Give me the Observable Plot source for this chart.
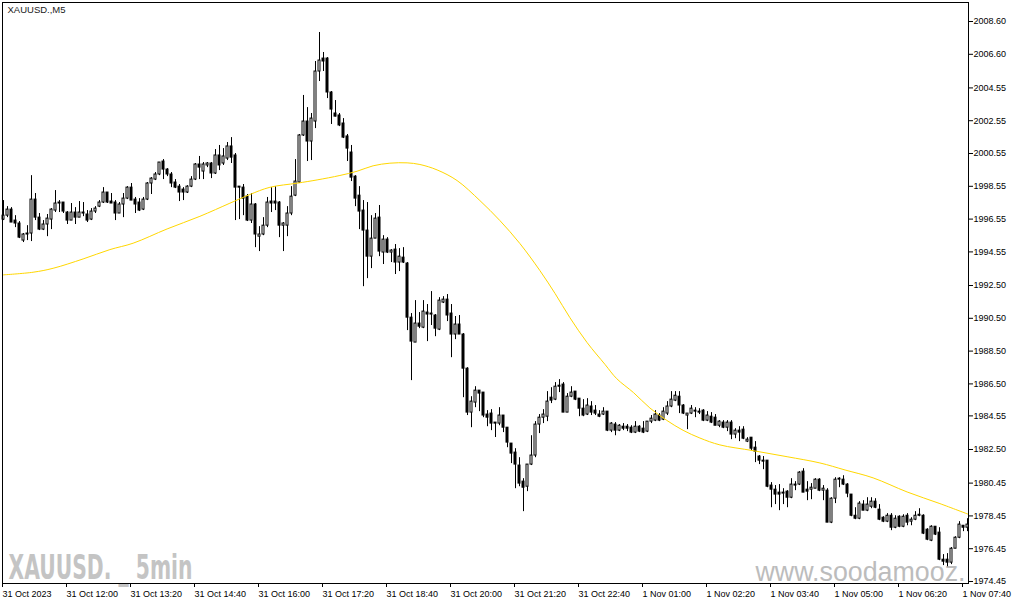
<!DOCTYPE html>
<html><head><meta charset="utf-8">
<script src="https://cdn.jsdelivr.net/npm/d3@7"></script>
<script src="https://cdn.jsdelivr.net/npm/@observablehq/plot@0.6"></script>
<style>
html,body{margin:0;padding:0;background:#fff;}
#chart{width:1015px;height:605px;overflow:hidden;}
</style></head><body><div id="chart"></div>
<script>
const symbolTitle = "XAUUSD.,M5";
const watermarkLeft = "XAUUSD. _ 5min";
const watermarkRight = "www.soodamooz.";

const timeLabels = ["31 Oct 2023","31 Oct 12:00","31 Oct 13:20","31 Oct 14:40","31 Oct 16:00","31 Oct 17:20","31 Oct 18:40","31 Oct 20:00","31 Oct 21:20","31 Oct 22:40","1 Nov 01:00","1 Nov 02:20","1 Nov 03:40","1 Nov 05:00","1 Nov 06:20","1 Nov 07:40"];
const barsPerLabel = 16;
const priceLabels = ["2008.60","2006.60","2004.55","2002.55","2000.55","1998.55","1996.55","1994.55","1992.50","1990.50","1988.50","1986.50","1984.55","1982.50","1980.45","1978.45","1976.45","1974.45"];

const open = [
1996.52,1996.76,1997.13,1996.46,1996.28,1995.24,1995.61,1995.67,1997.74,1996.64,
1995.91,1996.22,1996.52,1997.07,1997.56,1997.56,1996.95,1996.46,1996.95,1996.64,
1996.95,1996.83,1996.52,1997.01,1997.31,1997.56,1998.17,1997.62,1997.56,1996.89,
1997.44,1997.80,1998.47,1997.74,1997.56,1997.13,1997.74,1998.72,1998.96,1999.27,
2000.06,1999.57,1999.27,1998.78,1998.53,1998.35,1998.17,1998.53,1998.96,1999.88,
1999.45,1999.82,1999.94,1999.33,2000.43,1999.94,2000.24,2000.98,2000.43,1998.53,
1998.47,1997.92,1996.46,1997.44,1995.48,1995.61,1996.15,1997.62,1997.62,1997.56,
1996.15,1996.15,1996.89,1997.98,1998.78,2001.65,2002.50,2001.28,2002.50,2005.55,
2006.34,2006.34,2004.27,2002.99,2002.87,2002.38,2001.59,2000.61,1999.14,1997.98,
1997.07,1995.85,1994.26,1995.36,1996.64,1994.51,1995.30,1994.51,1994.69,1993.90,
1994.20,1993.84,1990.54,1989.02,1990.18,1989.93,1990.85,1990.79,1990.67,1989.81,
1991.46,1991.64,1990.79,1989.51,1990.12,1989.51,1987.43,1984.75,1985.36,1986.09,
1985.97,1984.63,1984.69,1984.14,1984.08,1984.57,1983.83,1982.86,1982.31,1981.52,
1980.54,1980.23,1981.58,1982.13,1984.02,1984.44,1984.50,1985.66,1985.54,1986.39,
1986.46,1984.75,1985.72,1986.03,1985.60,1984.99,1984.63,1985.12,1984.87,1984.63,
1984.63,1984.81,1983.65,1984.02,1983.65,1983.89,1983.89,1983.83,1983.53,1983.89,
1983.77,1983.59,1984.20,1984.26,1984.57,1984.32,1984.69,1985.12,1985.48,1985.72,
1985.18,1984.57,1984.69,1984.87,1984.81,1984.87,1984.26,1984.50,1984.44,1983.95,
1984.14,1983.83,1984.14,1983.41,1983.65,1983.71,1982.98,1983.22,1982.61,1982.07,
1981.82,1981.82,1980.30,1980.05,1979.87,1979.81,1979.93,1979.56,1980.36,1980.36,
1981.15,1980.05,1980.05,1980.11,1980.66,1979.99,1979.99,1978.04,1979.50,1980.66,
1980.66,1980.36,1979.75,1978.46,1978.28,1979.14,1978.77,1979.01,1979.32,1978.83,
1978.34,1978.10,1978.46,1977.73,1978.40,1977.79,1978.46,1978.10,1978.22,1978.52,
1978.46,1977.61,1976.94,1977.79,1977.43,1975.78,1975.78,1975.60,1976.45,1977.12,
1977.85,1977.73];

const high = [
1997.68,1997.31,1997.25,1996.76,1996.40,1995.67,1996.15,1999.20,1998.11,1996.89,
1996.46,1996.83,1997.19,1998.29,1997.68,1997.56,1997.01,1997.50,1997.25,1997.62,
1997.56,1997.07,1997.19,1997.31,1997.68,1998.47,1998.17,1998.11,1997.68,1997.56,
1998.11,1998.53,1998.72,1997.87,1997.80,1997.87,1998.78,1999.08,1999.39,2000.00,
2000.18,1999.63,1999.39,1998.96,1998.66,1998.47,1998.59,1999.14,1999.94,2000.37,
2000.00,2000.00,2000.00,2000.79,2001.04,2000.85,2001.22,2001.52,2000.55,1998.53,
1998.66,1998.05,1998.11,1997.50,1996.09,1996.64,1997.87,1998.47,1998.53,1997.62,
1996.34,1997.31,1998.53,2000.18,2001.71,2004.09,2003.35,2002.99,2006.16,2007.93,
2006.71,2006.40,2004.33,2003.78,2002.99,2002.68,2001.71,2001.04,1999.20,1998.53,
1997.68,1997.56,1996.76,1996.89,1997.38,1995.54,1995.42,1994.69,1995.00,1994.75,
1994.81,1993.90,1990.79,1991.58,1990.85,1991.58,1991.34,1992.13,1990.73,1991.76,
1991.82,1991.95,1991.34,1990.61,1990.67,1989.57,1987.49,1985.72,1986.33,1986.09,
1985.97,1984.87,1984.93,1984.14,1985.05,1984.57,1983.83,1982.86,1982.55,1982.00,
1980.72,1981.58,1983.34,1984.20,1984.63,1984.93,1986.03,1986.27,1986.58,1986.76,
1986.58,1985.91,1986.33,1986.03,1985.60,1985.54,1985.60,1985.42,1985.18,1984.87,
1985.05,1984.81,1984.14,1984.14,1984.02,1984.08,1984.02,1983.95,1984.20,1983.95,
1984.20,1984.20,1984.57,1984.87,1984.69,1985.05,1985.42,1986.03,1986.03,1986.03,
1985.24,1984.69,1985.18,1985.05,1984.99,1984.93,1984.81,1984.75,1984.63,1984.26,
1984.26,1984.26,1984.26,1983.77,1983.89,1983.89,1983.22,1983.22,1982.98,1982.13,
1982.07,1981.82,1980.48,1980.30,1980.36,1980.11,1979.99,1980.72,1980.54,1981.15,
1981.33,1980.54,1980.42,1980.72,1980.72,1980.30,1980.11,1979.56,1980.78,1980.78,
1980.90,1980.42,1979.75,1978.95,1979.32,1979.38,1979.56,1979.56,1979.50,1979.14,
1978.40,1978.59,1978.59,1978.46,1978.46,1978.52,1978.59,1978.34,1978.71,1978.89,
1978.52,1977.67,1977.85,1977.79,1977.73,1976.09,1976.15,1976.52,1977.18,1978.10,
1977.85,1978.28];

const low = [
1996.46,1996.64,1996.34,1996.03,1995.36,1995.12,1995.24,1995.18,1996.46,1995.85,
1995.85,1995.48,1995.91,1996.95,1996.95,1996.89,1996.22,1996.46,1996.22,1996.64,
1996.70,1996.34,1996.46,1996.89,1997.25,1997.50,1997.50,1997.50,1996.46,1996.89,
1996.64,1997.74,1997.68,1996.89,1997.01,1997.07,1997.68,1998.05,1998.90,1999.20,
1998.96,1999.14,1998.47,1998.41,1997.62,1997.68,1998.11,1998.47,1998.90,1998.96,
1998.96,1999.69,1999.02,1999.27,1999.51,1999.82,2000.12,1999.94,1996.46,1996.52,
1996.76,1996.40,1996.28,1994.81,1994.57,1995.54,1996.03,1996.95,1997.07,1995.42,
1994.57,1995.48,1996.76,1997.92,1998.72,2001.59,2000.06,2000.12,2002.07,2004.94,
2005.55,2003.90,2002.32,2002.78,2002.19,2001.46,2000.06,1998.84,1997.31,1995.91,
1992.43,1992.92,1993.53,1995.36,1994.26,1993.78,1994.45,1993.90,1993.17,1993.35,
1993.84,1989.75,1986.70,1989.02,1989.87,1989.87,1989.08,1990.06,1989.38,1989.75,
1991.40,1990.30,1988.10,1989.20,1989.51,1985.66,1984.57,1983.83,1985.05,1984.81,
1984.44,1983.89,1983.65,1983.23,1983.95,1983.53,1982.61,1981.64,1980.11,1980.23,
1978.71,1979.93,1981.52,1982.00,1983.47,1984.08,1984.20,1985.30,1985.48,1985.97,
1984.75,1984.75,1985.66,1985.48,1984.50,1984.50,1984.57,1984.57,1984.57,1984.44,
1984.57,1983.59,1983.53,1983.34,1983.59,1983.65,1983.59,1983.47,1983.47,1983.53,
1983.47,1983.53,1984.08,1984.20,1984.20,1984.26,1984.57,1985.05,1985.42,1984.69,
1984.63,1983.71,1984.63,1984.44,1984.63,1984.20,1984.20,1984.08,1983.95,1983.83,
1983.77,1983.59,1983.10,1983.16,1982.98,1983.10,1982.92,1982.43,1981.70,1981.58,
1981.27,1980.17,1978.95,1979.14,1978.77,1979.14,1978.95,1979.50,1979.99,1980.30,
1979.87,1979.38,1979.44,1980.11,1979.93,1979.38,1978.04,1977.98,1979.20,1980.17,
1980.30,1979.56,1978.40,1978.22,1978.22,1978.77,1978.71,1978.89,1978.89,1978.16,
1978.04,1978.04,1977.55,1977.67,1977.73,1977.73,1977.85,1977.85,1978.16,1978.40,
1977.31,1976.94,1976.88,1977.25,1975.72,1975.42,1975.35,1975.48,1976.45,1977.06,
1977.49,1977.49];

const close = [
1996.76,1997.13,1996.34,1996.28,1995.42,1995.61,1995.67,1997.74,1996.64,1995.91,
1996.22,1996.58,1997.13,1997.50,1997.50,1997.01,1996.46,1996.95,1996.64,1996.95,
1996.89,1996.46,1997.01,1997.19,1997.56,1998.17,1997.56,1997.50,1996.89,1997.44,
1997.80,1998.47,1997.68,1997.44,1997.07,1997.74,1998.72,1999.02,1999.27,2000.00,
1999.57,1999.27,1998.72,1998.47,1998.17,1998.17,1998.53,1998.96,1999.88,1999.69,
1999.88,1999.94,1999.33,2000.43,1999.82,2000.37,2000.98,2000.30,1998.47,1998.47,
1997.80,1996.46,1997.44,1995.61,1995.61,1996.15,1997.56,1997.50,1997.50,1996.15,
1996.28,1996.89,1997.92,1998.84,2001.65,2002.50,2001.28,2002.68,2005.55,2006.22,
2006.16,2004.27,2003.23,2002.80,2002.26,2001.52,2000.85,1999.08,1997.80,1997.01,
1995.85,1994.26,1995.36,1996.58,1994.57,1995.30,1994.51,1994.63,1993.90,1994.26,
1993.90,1990.54,1989.08,1990.18,1989.99,1990.91,1990.73,1990.73,1989.87,1991.58,
1991.64,1990.67,1989.51,1990.12,1989.51,1987.43,1984.75,1985.42,1986.09,1985.91,
1984.57,1984.44,1984.08,1984.08,1984.57,1983.83,1982.92,1982.25,1981.58,1980.42,
1980.17,1981.58,1982.13,1984.02,1984.44,1984.63,1985.42,1985.48,1986.33,1986.33,
1984.75,1985.72,1985.97,1985.54,1984.99,1984.57,1985.18,1984.75,1984.69,1984.50,
1984.81,1983.65,1984.08,1983.65,1983.95,1983.77,1983.77,1983.53,1983.89,1983.59,
1983.53,1984.20,1984.38,1984.63,1984.26,1984.81,1985.12,1985.54,1985.78,1985.18,
1984.69,1984.69,1984.99,1984.81,1984.75,1984.26,1984.57,1984.14,1983.95,1984.20,
1983.83,1984.14,1983.41,1983.65,1983.53,1983.16,1983.10,1982.55,1982.37,1981.82,
1981.76,1980.23,1980.05,1979.75,1979.75,1979.87,1979.56,1980.36,1980.30,1981.09,
1979.87,1979.93,1980.17,1980.66,1979.99,1980.11,1978.04,1979.50,1980.66,1980.72,
1980.36,1979.81,1978.46,1978.28,1979.20,1978.77,1979.14,1979.32,1978.95,1978.22,
1978.10,1978.46,1977.73,1978.28,1977.79,1978.40,1978.04,1978.22,1978.46,1978.46,
1977.37,1977.00,1977.79,1977.31,1975.78,1975.66,1975.60,1976.45,1977.12,1977.92,
1977.73,1977.92];

// moving average, sampled at bar positions
const maBar = [0,7.4,12.4,19.9,26.6,32.4,40.9,49.1,56.6,61.6,66.6,73.4,78.4,84.1,88.4,92.4,96.6,100.9,104.1,108.4,113.4,119.1,124.1,129.1,134.1,137.9,141.6,145.9,150.4,153.3,157.5,161.6,165.8,169.9,174.1,179.1,187.4,195.9,204.1,210.4,217.4,225.9,234.1,241.2];
const maValue = [1993.15,1993.31,1993.55,1994.12,1994.69,1995.08,1995.95,1996.72,1997.52,1998.05,1998.49,1998.74,1998.94,1999.21,1999.47,1999.80,1999.96,1999.98,1999.88,1999.55,1998.90,1997.68,1996.46,1995.06,1993.41,1992.01,1990.54,1989.02,1987.68,1986.82,1985.97,1985.03,1984.28,1983.67,1983.20,1982.78,1982.43,1982.06,1981.68,1981.25,1980.77,1979.91,1979.20,1978.55];

const bars = open.map((o, i) => ({i, open: o, high: high[i], low: low[i], close: close[i]}));
const ma = maBar.map((b, k) => ({b, v: maValue[k]}));
const xTicks = timeLabels.map((_, k) => k * barsPerLabel);
const yTicks = priceLabels.map(Number);

const font = "'Liberation Sans', Arial, sans-serif";

const chart = Plot.plot({
  width: 1015, height: 605,
  marginLeft: 2, marginRight: 47, marginTop: 2, marginBottom: 22,
  x: {domain: [-0.25, 241.25]},
  y: {domain: [1974.328, 2009.759]},
  color: {type: "identity"},
  style: {fontFamily: font, background: "#fff", color: "#000"},
  marks: [
    Plot.text([watermarkLeft], {text: d => d, frameAnchor: "bottom-left", dx: 6, dy: -5,
      fontSize: 34, fontWeight: "bold", fontFamily: "'Liberation Sans Narrow','DejaVu Sans Condensed',sans-serif",
      fill: "#c4c4c4", textAnchor: "start", lineAnchor: "bottom"}),
    Plot.text([watermarkRight], {text: d => d, frameAnchor: "bottom-left", dx: 753, dy: -3,
      fontSize: 27, fontFamily: font, fill: "#bcbcbc", textAnchor: "start", lineAnchor: "bottom"}),
    Plot.ruleX(bars, {x: "i", y1: "low", y2: "high", stroke: "#000", strokeWidth: 1}),
    Plot.rect(bars, {x1: d => d.i - 0.25, x2: d => d.i + 0.25, y1: "open", y2: "close",
      fill: d => d.close > d.open ? "#ffffff" : "#000000", stroke: "#000", strokeWidth: 1}),
    Plot.line(ma, {x: "b", y: "v", stroke: "#FFD700", strokeWidth: 1, curve: "catmull-rom", clip: true}),
    Plot.frame({stroke: "#000"}),
    Plot.axisY({anchor: "right", ticks: yTicks, tickFormat: d => priceLabels[yTicks.indexOf(d)],
      tickSize: 4, tickPadding: 1, fontSize: 9}),
    Plot.axisX({anchor: "bottom", ticks: xTicks, tickFormat: d => timeLabels[Math.round(d / barsPerLabel)],
      tickSize: 4, tickPadding: 3, textAnchor: "start", fontSize: 9, dx: -1}),
    Plot.text([symbolTitle], {text: d => d, frameAnchor: "top-left", dx: 5, dy: 4,
      fontSize: 9.5, fill: "#1a1a1a", textAnchor: "start", lineAnchor: "top"})
  ]
});

d3.select(chart).selectAll("text")
  .filter(function() { return this.textContent === watermarkLeft; })
  .attr("textLength", 184).attr("lengthAdjust", "spacingAndGlyphs");
d3.select(chart).selectAll("text")
  .filter(function() { return this.textContent === watermarkRight; })
  .attr("textLength", 210).attr("lengthAdjust", "spacingAndGlyphs");

document.getElementById("chart").appendChild(chart);
</script>
</body></html>
